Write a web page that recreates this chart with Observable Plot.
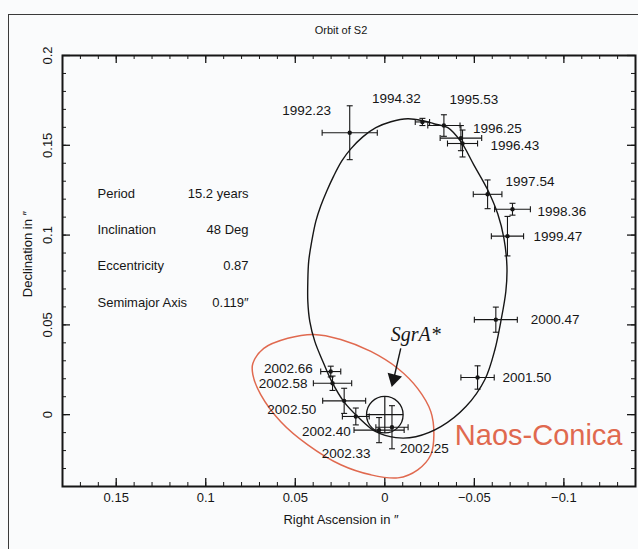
<!DOCTYPE html>
<html><head><meta charset="utf-8">
<script src="https://cdn.jsdelivr.net/npm/d3@7"></script>
<script src="https://cdn.jsdelivr.net/npm/@observablehq/plot@0.6"></script>
<style>
html,body{margin:0;padding:0;background:#fafbfc;}
#wrap{position:relative;width:638px;height:549px;overflow:hidden;}
#wrap svg{position:absolute;left:0;top:0;}
#border{position:absolute;left:8px;top:14px;width:700px;height:600px;border:1px solid #3a3a3a;pointer-events:none;}
</style></head><body><div id="wrap"></div>
<script>
// ---- data (arcsec) ----
const epochs = ["1992.23","1994.32","1995.53","1996.25","1996.43","1997.54","1998.36","1999.47","2000.47","2001.50","2002.25","2002.33","2002.40","2002.50","2002.58","2002.66"];
const ra     = [0.0196,-0.0210,-0.0330,-0.0425,-0.0434,-0.0574,-0.0713,-0.0685,-0.0620,-0.0518,-0.0040,0.0032,0.0162,0.0227,0.0292,0.0302];
const dec    = [0.1570,0.1630,0.1610,0.1540,0.1510,0.1227,0.1144,0.0994,0.0529,0.0207,-0.0070,-0.0086,-0.0010,0.0077,0.0175,0.0240];
const raErr  = [0.0154,0.0040,0.0090,0.0116,0.0084,0.0080,0.0100,0.0090,0.0120,0.0093,0.0090,0.0140,0.0075,0.0120,0.0107,0.0056];
const decErr = [0.0150,0.0020,0.0060,0.0070,0.0075,0.0080,0.0033,0.0110,0.0070,0.0065,0.0120,0.0070,0.0047,0.0070,0.0040,0.0030];

// fitted orbit
const orbitRA  = [-0.0128,-0.0212,-0.0274,-0.0352,-0.0425,-0.0497,-0.0575,-0.0631,-0.0665,-0.0682,-0.0676,-0.0648,-0.0615,-0.0559,-0.0453,-0.0313,-0.0173,-0.0061,0.0050,0.0151,0.0229,0.0296,0.0346,0.0391,0.0419,0.0430,0.0430,0.0425,0.0408,0.0385,0.0358,0.0324,0.0285,0.0240,0.0190,0.0123,0.0050,-0.0034];
const orbitDec = [0.1648,0.1637,0.1620,0.1598,0.1520,0.1391,0.1251,0.1117,0.0983,0.0827,0.0687,0.0520,0.0363,0.0196,0.0045,-0.0067,-0.0123,-0.0128,-0.0095,-0.0011,0.0073,0.0184,0.0296,0.0408,0.0520,0.0631,0.0743,0.0855,0.0966,0.1078,0.1162,0.1246,0.1330,0.1413,0.1480,0.1547,0.1598,0.1631];

// Naos-Conica outline
const naosRA  = [0.0737,0.0676,0.0542,0.0397,0.0246,0.0078,-0.0073,-0.0184,-0.0257,-0.0274,-0.0257,-0.0184,-0.0073,0.0078,0.0246,0.0430,0.0581,0.0693,0.0737];
const naosDec = [0.0285,0.0369,0.0425,0.0447,0.0419,0.0352,0.0257,0.0145,0.0017,-0.0112,-0.0223,-0.0307,-0.0352,-0.0335,-0.0279,-0.0168,-0.0039,0.0112,0.0223];

// SgrA* marker and arrow
const sgrRA = [0], sgrDec = [0], sgrRadius = 0.0102;
const arrowFrom = [-0.0089, 0.0369], arrowTo = [-0.0050, 0.0200];

// orbit parameters
const infoNames  = ["Period","Inclination","Eccentricity","Semimajor Axis"];
const infoValues = ["15.2 years","48 Deg","0.87","0.119\u2033"];

// ticks
const xTicks = [0.15, 0.1, 0.05, 0, -0.05, -0.1];
const yTicks = [0, 0.05, 0.1, 0.15, 0.2];
const xDomain = [0.18, -0.14], yDomain = [-0.04, 0.2];

// ---- layout (styles) ----
const labelPlace = { // dx, dy, anchor
  "1992.23":[-43,-22,"middle"], "1994.32":[-26,-23,"middle"], "1995.53":[30,-26,"middle"],
  "1996.25":[12,-9,"start"], "1996.43":[28,2,"start"], "1997.54":[18,-13,"start"],
  "1998.36":[25,2,"start"], "1999.47":[26,1,"start"], "2000.47":[35,0,"start"],
  "2001.50":[25,0,"start"], "2002.25":[8,21,"start"], "2002.33":[-33,24,"middle"],
  "2002.40":[-5,15,"end"], "2002.50":[-28,9,"end"], "2002.58":[-25,0,"end"], "2002.66":[-18,-3,"end"]
};
const W=638,H=549,mL=62,mR=3,mT=55,mB=63;
const fw=W-mL-mR, fh=H-mT-mB;
const ink="#161616", red="#e0694f";
const fmt = d => d3.format("")(d);

const stars = epochs.map((e,i)=>({epoch:e, ra:ra[i], dec:dec[i], dra:raErr[i], ddec:decErr[i]}));
const orbit = orbitRA.map((x,i)=>({x, y:orbitDec[i]}));
const naos = naosRA.map((x,i)=>({x, y:naosDec[i]}));
const sgr = sgrRA.map((x,i)=>({x, y:sgrDec[i]}));
const minorX = d3.range(-14, 19).map(i=>i/100);
const minorY = d3.range(-4, 21).map(i=>i/100);

const vbar = {draw(c,s){const r=Math.sqrt(s/Math.PI); c.moveTo(0,-r); c.lineTo(0,r);}};
const hbar = {draw(c,s){const r=Math.sqrt(s/Math.PI); c.moveTo(-r,0); c.lineTo(r,0);}};

const labelMarks = stars.map(d => {
  const [dx,dy,a] = labelPlace[d.epoch];
  return Plot.text([d], {x:"ra", y:"dec", text:"epoch", dx, dy, textAnchor:a, fontSize:13.5, fill:ink});
});

const chart = Plot.plot({
  width:W, height:H, marginLeft:mL, marginRight:mR, marginTop:mT, marginBottom:mB,
  style:{fontFamily:"'Liberation Sans', Arial, sans-serif", fontSize:"13px", background:"transparent", color:ink},
  x:{domain:xDomain, label:null, axis:null},
  y:{domain:yDomain, label:null, axis:null},
  marks:[
    // ticks (inward, all four sides)
    Plot.ruleX(minorX, {insetTop:fh-4, stroke:ink}),
    Plot.ruleX(xTicks, {insetTop:fh-8, stroke:ink, strokeWidth:1.3}),
    Plot.ruleX(minorX, {insetBottom:fh-4, stroke:ink}),
    Plot.ruleX(xTicks, {insetBottom:fh-8, stroke:ink, strokeWidth:1.3}),
    Plot.ruleY(minorY, {insetRight:fw-4, stroke:ink}),
    Plot.ruleY(yTicks, {insetRight:fw-8, stroke:ink, strokeWidth:1.3}),
    Plot.ruleY(minorY, {insetLeft:fw-4, stroke:ink}),
    Plot.ruleY(yTicks, {insetLeft:fw-8, stroke:ink, strokeWidth:1.3}),
    Plot.frame({stroke:ink, strokeWidth:2}),
    Plot.axisX(xTicks, {anchor:"bottom", tickSize:0, tickPadding:6, fontSize:13, label:null, tickFormat:fmt}),
    Plot.axisY(yTicks, {anchor:"left", tickSize:0, tickRotate:-90, tickPadding:11, fontSize:13, label:null, tickFormat:fmt}),
    Plot.text(["Right Ascension in \u2033"], {text:d=>d, frameAnchor:"bottom", textAnchor:"middle", dy:37, dx:-8, fontSize:13}),
    Plot.text(["Declination in \u2033"], {text:d=>d, frameAnchor:"left", textAnchor:"middle", dx:-35, dy:-17, rotate:-90, fontSize:13}),
    Plot.text(["Orbit of S2"], {text:d=>d, frameAnchor:"top", textAnchor:"middle", dy:-29, dx:-8, fontSize:11}),
    // orbit parameter block
    ...infoNames.map((n,i)=>Plot.text([n], {text:d=>d, frameAnchor:"top-left", dx:35, dy:133+i*36.3, textAnchor:"start", fontSize:13})),
    ...infoValues.map((v,i)=>Plot.text([v], {text:d=>d, frameAnchor:"top-left", dx:186, dy:133+i*36.3, textAnchor:"end", fontSize:13})),
    // Naos-Conica field
    Plot.line(naos, {x:"x", y:"y", curve:"catmull-rom-closed", stroke:red, strokeWidth:1.5}),
    Plot.text(["Naos-Conica"], {text:d=>d, frameAnchor:"bottom-right", dx:-13, dy:-42, textAnchor:"end", fontSize:29, fill:red}),
    // orbit
    Plot.line(orbit, {x:"x", y:"y", curve:"catmull-rom-closed", stroke:ink, strokeWidth:1.4}),
    // SgrA*
    Plot.dot(sgr, {x:"x", y:"y", r:18.3, stroke:ink, strokeWidth:1.3, fill:"none"}),
    Plot.link(sgr, {x1:d=>d.x-sgrRadius, x2:d=>d.x+sgrRadius, y1:"y", y2:"y", stroke:ink, strokeWidth:1.2}),
    Plot.link(sgr, {x1:"x", x2:"x", y1:d=>d.y-sgrRadius, y2:d=>d.y+sgrRadius, stroke:ink, strokeWidth:1.2}),
    Plot.link([0], {x1:()=>arrowFrom[0], y1:()=>arrowFrom[1], x2:()=>arrowTo[0], y2:()=>arrowTo[1], stroke:ink, strokeWidth:1.4}),
    Plot.dot([0], {x:()=>arrowTo[0], y:()=>arrowTo[1], symbol:"triangle", rotate:194, r:5.5, fill:ink, stroke:"none"}),
    Plot.text(["SgrA*"], {text:d=>d, x:()=>arrowFrom[0], y:()=>arrowFrom[1], dx:-10, dy:-14, textAnchor:"start", fontSize:20, fontStyle:"italic", fontFamily:"'Liberation Serif', 'DejaVu Serif', serif", fill:ink}),
    // error bars
    Plot.link(stars, {x1:d=>d.ra-d.dra, x2:d=>d.ra+d.dra, y1:"dec", y2:"dec", stroke:ink, strokeWidth:1.1}),
    Plot.link(stars, {x1:"ra", x2:"ra", y1:d=>d.dec-d.ddec, y2:d=>d.dec+d.ddec, stroke:ink, strokeWidth:1.1}),
    Plot.dot(stars, {x:d=>d.ra-d.dra, y:"dec", symbol:vbar, r:3, stroke:ink, fill:"none", strokeWidth:1.1}),
    Plot.dot(stars, {x:d=>d.ra+d.dra, y:"dec", symbol:vbar, r:3, stroke:ink, fill:"none", strokeWidth:1.1}),
    Plot.dot(stars, {x:"ra", y:d=>d.dec-d.ddec, symbol:hbar, r:3, stroke:ink, fill:"none", strokeWidth:1.1}),
    Plot.dot(stars, {x:"ra", y:d=>d.dec+d.ddec, symbol:hbar, r:3, stroke:ink, fill:"none", strokeWidth:1.1}),
    Plot.dot(stars, {x:"ra", y:"dec", r:2.2, fill:ink, stroke:"none"}),
    ...labelMarks
  ]
});
const wrap = document.getElementById("wrap");
wrap.appendChild(chart);
const b = document.createElement("div"); b.id="border"; wrap.appendChild(b);
</script></body></html>
